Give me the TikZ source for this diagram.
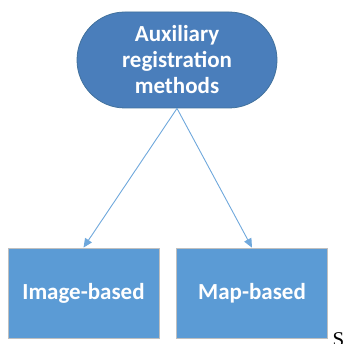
\documentclass[tikz,border=0pt]{standalone}
\usepackage{fontspec}
\setmainfont{Carlito}
\newfontfamily\serifS{Liberation Serif}
\usetikzlibrary{shapes.misc,arrows.meta}
\definecolor{headfill}{HTML}{4A7EBB}
\definecolor{headline}{HTML}{41719C}
\definecolor{boxfill}{HTML}{5B9BD5}
\definecolor{boxline}{HTML}{BFBFBF}
\definecolor{linkcol}{HTML}{6FA8DC}
\tikzset{
  headnode/.style={rounded rectangle, fill=headfill, draw=headline, line width=0.8pt,
    minimum width=200pt, minimum height=96pt, text=white, align=center,
    font=\fontsize{23pt}{26pt}\selectfont\bfseries, inner sep=0pt},
  leafnode/.style={rectangle, fill=boxfill, draw=boxline, line width=0.8pt,
    minimum width=151pt, minimum height=90pt, text=white,
    font=\fontsize{23pt}{26pt}\selectfont\bfseries, inner sep=0pt},
  link/.style={draw=linkcol, line width=0.9pt, -{Triangle[length=9pt,width=8pt]}}
}
\begin{document}
\begin{tikzpicture}[x=1pt,y=-1pt]
  \useasboundingbox (0,0) rectangle (343,344);
  \begin{scope}
    \clip (0,0) rectangle (343,344);
    \node[headnode] (head) at (177,60) {Auxiliary\\registration\\methods};
    \node[leafnode] (img) at (83.5,293) {Image-based};
    \node[leafnode] (map) at (252,293) {Map-based};
    \draw[link] (head.south) -- (img.north);
    \draw[link] (head.south) -- (map.north);
    \node[anchor=base west, inner sep=0pt, font=\serifS\fontsize{21pt}{24pt}\selectfont] (s) at (332.5,346) {S};
  \end{scope}
\end{tikzpicture}
\end{document}
